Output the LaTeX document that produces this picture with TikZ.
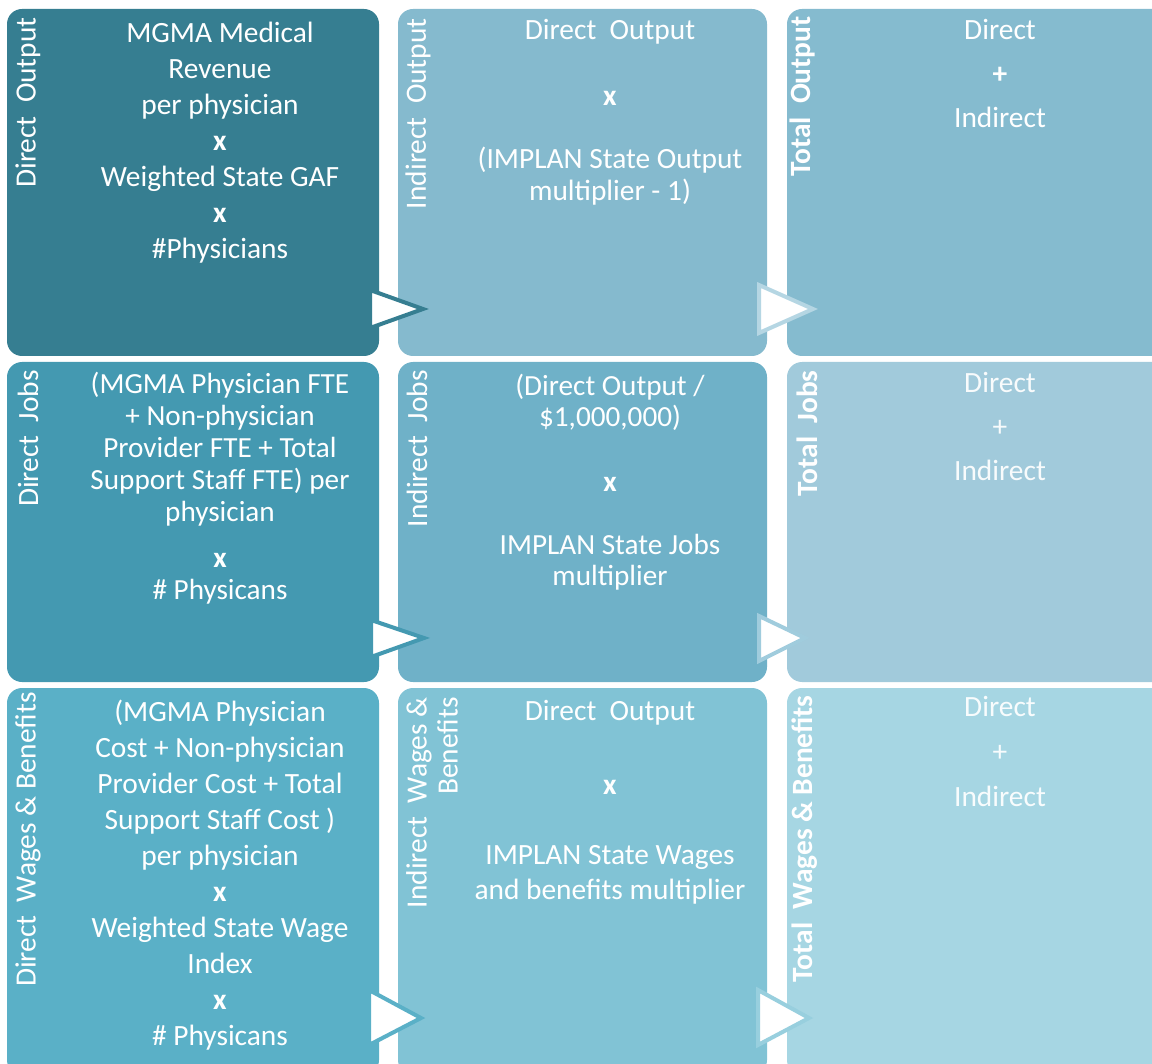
\documentclass[tikz,border=0pt]{standalone}
\usepackage{fontspec}
\setmainfont{Carlito}

\definecolor{boxAa}{HTML}{367E91}
\definecolor{boxAb}{HTML}{85BACE}
\definecolor{boxAc}{HTML}{85BBCF}
\definecolor{boxBa}{HTML}{4499B1}
\definecolor{boxBb}{HTML}{6FB1C8}
\definecolor{boxBc}{HTML}{A1CADB}
\definecolor{boxCa}{HTML}{5AB0C7}
\definecolor{boxCb}{HTML}{81C3D5}
\definecolor{boxCc}{HTML}{A6D6E3}
\definecolor{rimAb}{HTML}{B5D6E3}
\definecolor{rimBb}{HTML}{A0CCDD}
\definecolor{rimCb}{HTML}{98CFDE}

\begin{document}
\begin{tikzpicture}[x=0.5pt, y=-0.5pt,
    cell/.style = {rounded corners = 7.5pt},
    body/.style = {text = white, align = center, anchor = north, inner sep = 0pt,
      font = \fontsize{14.7}{18}\selectfont},
    side/.style = {text = white, rotate = 90, anchor = east, inner sep = 0pt, align = right,
      font = \fontsize{14.7}{15.5}\selectfont},
    tri/.style = {fill = white, line width = 2pt, line join = miter}]
    \clip (0, 0) rectangle (1152, 1064);

    % output row
    \fill[boxAa, cell] (7, 9) rectangle (379, 356);
    \fill[boxAb, cell] (398, 9) rectangle (767, 356);
    \fill[boxAc, cell] (787, 9) rectangle (1170, 356);

    % jobs row
    \fill[boxBa, cell] (7, 362) rectangle (379, 682);
    \fill[boxBb, cell] (398, 362) rectangle (767, 682);
    \fill[boxBc, cell] (787, 362) rectangle (1170, 682);

    % wages row
    \fill[boxCa, cell] (7, 688) rectangle (379, 1075);
    \fill[boxCb, cell] (398, 688) rectangle (767, 1075);
    \fill[boxCc, cell] (787, 688) rectangle (1170, 1075);

    \draw[tri, draw = boxAa] (370, 290) -- (423, 309) -- (370, 328) -- cycle;
    \draw[tri, draw = rimAb] (759, 285) -- (813, 309) -- (759, 333) -- cycle;
    \draw[tri, draw = boxBa] (371, 620) -- (424, 638) -- (371, 657) -- cycle;
    \draw[tri, draw = rimBb] (759, 616) -- (805, 638) -- (759, 661) -- cycle;
    \draw[tri, draw = boxCa] (369, 990) -- (421, 1018) -- (369, 1045) -- cycle;
    \draw[tri, draw = rimCb] (758, 990) -- (809, 1018) -- (758, 1045) -- cycle;

    \node[side] (DOutL) at (28, 17) {Direct\ \ Output};
    \node[side] (IOutL) at (418, 18) {Indirect\ \ Output};
    \node[side, font = \fontsize{14.7}{15.5}\bfseries] (TOutL) at (802, 16) {Total\ \ Output};
    \node[side] (DJobL) at (28, 370) {Direct\ \ Jobs};
    \node[side] (IJobL) at (417, 370) {Indirect\ \ Jobs};
    \node[side, font = \fontsize{14.7}{15.5}\bfseries] (TJobL) at (807, 370) {Total\ \ Jobs};
    \node[side] (DWagL) at (28, 692) {Direct\ \ Wages \& Benefits};
    \node[side] (IWagL) at (432, 697) {Indirect\ \ Wages \&\\Benefits};
    \node[side, font = \fontsize{14.7}{15.5}\bfseries] (TWagL) at (805, 695) {Total\ \ Wages \& Benefits};

    \node[body] (DOut) at (220, 22)
      {MGMA Medical\\Revenue\\ per physician\\\textbf{x}\\Weighted State GAF\\\textbf{x}\\\#Physicians};
    \node[body, font = \fontsize{14.7}{16}\selectfont] (IOut) at (610, 19)
      {Direct\ \ Output\\[17pt]\textbf{x}\\[15.5pt](IMPLAN State Output\\multiplier - 1)};
    \node[body, font = \fontsize{14.7}{22}\selectfont] (TOut) at (1000, 19)
      {Direct\\\textbf{+}\\Indirect};

    \node[body, font = \fontsize{14.6}{16}\selectfont] (DJob) at (220, 372)
      {(MGMA Physician FTE\\+ Non-physician\\Provider FTE + Total\\Support Staff FTE) per\\physician\\[7pt]\textbf{x}\\\# Physicans};
    \node[body, font = \fontsize{14.6}{15.5}\selectfont] (IJob) at (610, 374)
      {(Direct Output /\\\$1,000,000)\\[17pt]\textbf{x}\\[16pt]IMPLAN State Jobs\\multiplier};
    \node[body, font = \fontsize{14.7}{22}\selectfont, text = white!92!boxBc] (TJob) at (1000, 372)
      {Direct\\+\\Indirect};

    \node[body] (DWag) at (220, 700)
      {(MGMA Physician\\Cost + Non-physician\\Provider Cost + Total\\Support Staff Cost )\\per physician\\\textbf{x}\\Weighted State Wage\\Index\\\textbf{x}\\\# Physicans};
    \node[body, font = \fontsize{14.7}{17.5}\selectfont] (IWag) at (610, 700)
      {Direct\ \ Output\\[19.5pt]\textbf{x}\\[17.5pt]IMPLAN State Wages\\and benefits multiplier};
    \node[body, font = \fontsize{14.7}{22.5}\selectfont, text = white!92!boxCc] (TWag) at (1000, 696)
      {Direct\\+\\Indirect};
  \end{tikzpicture}
\end{document}
